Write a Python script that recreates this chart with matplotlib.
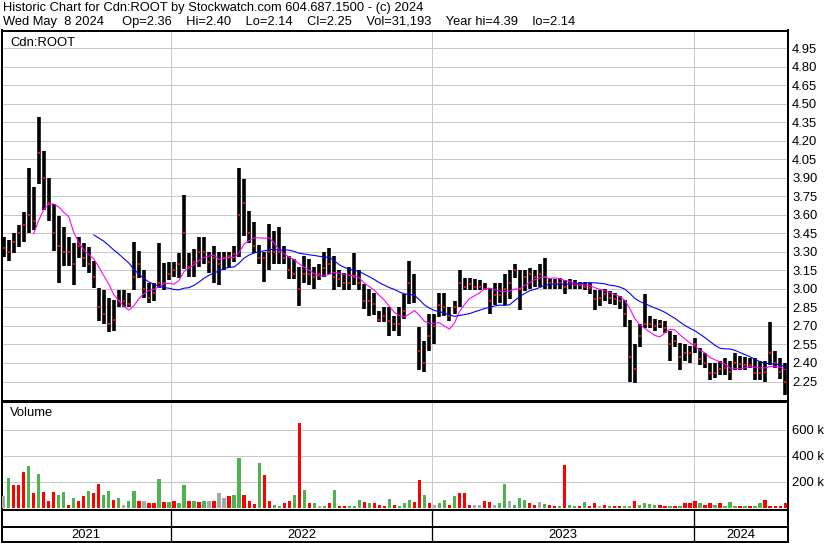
import numpy as np
import pandas as pd
import matplotlib
matplotlib.use('Agg')
import matplotlib.pyplot as plt

plt.rcParams['font.family'] = ['Liberation Sans', 'DejaVu Sans']

# weekly bars (week ending dates)
dates = pd.date_range('2021-05-12', '2024-05-08', freq='7D')

hi = [3.42, 3.40, 3.45, 3.52, 3.62, 3.98, 3.83, 4.39, 4.12, 3.90,
      3.69, 3.59, 3.50, 3.42, 3.37, 3.42, 3.37, 3.34, 3.23, 3.01,
      2.99, 2.93, 2.91, 2.99, 2.99, 2.97, 3.38, 3.31, 3.15, 3.05,
      3.05, 3.37, 3.21, 3.22, 3.22, 3.29, 3.76, 3.29, 3.32, 3.42,
      3.42, 3.30, 3.35, 3.30, 3.30, 3.30, 3.35, 3.98, 3.89, 3.63,
      3.54, 3.36, 3.30, 3.53, 3.47, 3.50, 3.35, 3.27, 3.24, 3.18,
      3.27, 3.24, 3.18, 3.20, 3.30, 3.33, 3.27, 3.15, 3.13, 3.18,
      3.29, 3.15, 3.04, 3.00, 2.97, 2.82, 2.85, 2.85, 2.78, 2.85,
      2.96, 3.23, 3.12, 2.69, 2.58, 2.80, 2.80, 2.97, 2.97, 2.85,
      2.90, 3.15, 3.09, 3.09, 3.08, 3.07, 3.05, 3.01, 3.05, 3.05,
      3.12, 3.15, 3.20, 3.15, 3.15, 3.17, 3.15, 3.20, 3.25, 3.09,
      3.08, 3.09, 3.07, 3.08, 3.07, 3.06, 3.06, 3.05, 2.99, 2.99,
      3.00, 2.98, 2.97, 2.94, 2.91, 2.75, 2.55, 2.72, 2.96, 2.78,
      2.76, 2.75, 2.74, 2.66, 2.63, 2.56, 2.55, 2.54, 2.60, 2.52,
      2.48, 2.40, 2.40, 2.42, 2.44, 2.42, 2.48, 2.46, 2.45, 2.44,
      2.44, 2.42, 2.42, 2.73, 2.50, 2.44, 2.40]

lo = [3.26, 3.23, 3.29, 3.34, 3.38, 3.45, 3.48, 3.85, 3.64, 3.55,
      3.31, 3.05, 3.19, 3.19, 3.03, 3.25, 3.18, 3.13, 3.01, 2.74,
      2.72, 2.65, 2.66, 2.85, 2.85, 2.85, 2.99, 3.09, 2.93, 2.89,
      2.90, 3.01, 2.99, 3.07, 3.10, 3.09, 3.16, 3.10, 3.10, 3.18,
      3.20, 3.13, 3.05, 3.03, 3.15, 3.17, 3.22, 3.26, 3.43, 3.37,
      3.29, 3.20, 3.06, 3.15, 3.20, 3.20, 3.20, 3.08, 3.08, 2.86,
      3.05, 3.03, 3.00, 3.07, 3.10, 3.12, 2.99, 3.02, 2.99, 2.99,
      3.03, 2.99, 2.84, 2.78, 2.79, 2.73, 2.73, 2.62, 2.66, 2.62,
      2.76, 2.88, 2.89, 2.34, 2.33, 2.50, 2.55, 2.77, 2.78, 2.74,
      2.80, 2.85, 2.99, 2.99, 2.99, 2.99, 2.99, 2.80, 2.87, 2.89,
      2.87, 2.92, 3.09, 2.83, 2.98, 3.00, 3.02, 3.02, 3.00, 3.00,
      3.00, 3.00, 2.96, 3.00, 3.00, 3.00, 2.99, 2.96, 2.83, 2.86,
      2.90, 2.88, 2.87, 2.84, 2.69, 2.25, 2.24, 2.53, 2.68, 2.68,
      2.66, 2.68, 2.64, 2.42, 2.53, 2.34, 2.42, 2.40, 2.48, 2.38,
      2.36, 2.26, 2.28, 2.30, 2.30, 2.26, 2.34, 2.34, 2.34, 2.36,
      2.26, 2.26, 2.25, 2.38, 2.36, 2.27, 2.14]

close = [3.33, 3.30, 3.38, 3.45, 3.52, 3.60, 3.55, 4.10, 3.90, 3.70,
         3.45, 3.35, 3.30, 3.30, 3.20, 3.35, 3.25, 3.20, 3.10, 2.85,
         2.80, 2.72, 2.75, 2.90, 2.90, 2.88, 3.10, 3.20, 3.00, 2.93,
         2.97, 3.05, 3.05, 3.12, 3.15, 3.20, 3.45, 3.18, 3.22, 3.30,
         3.30, 3.22, 3.25, 3.20, 3.25, 3.27, 3.28, 3.60, 3.70, 3.45,
         3.35, 3.25, 3.25, 3.30, 3.30, 3.30, 3.25, 3.15, 3.12, 3.00,
         3.12, 3.12, 3.10, 3.12, 3.17, 3.20, 3.10, 3.08, 3.05, 3.05,
         3.10, 3.05, 2.90, 2.90, 2.88, 2.75, 2.78, 2.74, 2.72, 2.72,
         2.82, 3.05, 2.95, 2.50, 2.40, 2.62, 2.70, 2.87, 2.85, 2.78,
         2.85, 3.05, 3.02, 3.04, 3.02, 3.02, 3.00, 2.90, 2.95, 2.95,
         3.00, 3.05, 3.15, 3.00, 3.10, 3.12, 3.10, 3.12, 3.10, 3.05,
         3.04, 3.05, 3.02, 3.04, 3.03, 3.03, 3.02, 3.01, 2.92, 2.93,
         2.96, 2.93, 2.92, 2.90, 2.80, 2.45, 2.35, 2.62, 2.72, 2.72,
         2.70, 2.72, 2.68, 2.55, 2.58, 2.45, 2.48, 2.48, 2.55, 2.43,
         2.40, 2.32, 2.32, 2.35, 2.36, 2.33, 2.40, 2.39, 2.38, 2.38,
         2.32, 2.32, 2.33, 2.48, 2.40, 2.33, 2.25]

# volume in thousands, colour code: g = up, r = down, n = unchanged
vol = [90, 230, 180, 180, 276, 325, 115, 260, 123, 56,
       123, 100, 123, 26, 77, 56, 90, 128, 115, 184,
       100, 133, 64, 77, 26, 56, 128, 56, 56, 38,
       38, 225, 46, 46, 51, 38, 180, 51, 56, 46,
       56, 56, 56, 115, 77, 95, 102, 380, 102, 51,
       30, 345, 250, 56, 26, 13, 38, 51, 102, 650,
       140, 38, 38, 13, 13, 38, 140, 18, 18, 18,
       18, 64, 46, 38, 38, 26, 18, 72, 26, 18,
       38, 64, 46, 215, 100, 38, 26, 38, 64, 26,
       95, 115, 115, 26, 26, 26, 56, 46, 26, 38,
       184, 56, 26, 77, 64, 38, 26, 46, 30, 26,
       18, 18, 328, 26, 13, 13, 46, 13, 38, 18,
       26, 18, 18, 18, 18, 18, 56, 26, 38, 30,
       26, 26, 13, 13, 13, 18, 38, 38, 56, 38,
       26, 38, 26, 38, 18, 46, 18, 18, 13, 13,
       18, 38, 64, 18, 18, 18, 38]

vol_dir = list("ngrrrgrgrr" "rggrgrrgrr" "ggrgnggrnr" "rgrgrggrgr"
               "gnrnnrggrr" "rgrrggrrgr" "grgngrgrrg" "ggrgrrrgrg"
               "ggrrgrnggr" "grrrnnrrng" "gngggrrngr" "rgrggrgrrn"
               "rgrrggrggg" "grrgrgrrrg" "rrgrgggrgr" "ggrrrr" "r")

years = [2021, 2022, 2023, 2024]
price_ticks = np.round(np.arange(15, 34) * 0.15, 2)
vol_ticks = [200, 400, 600]

W, H = 830, 543
px = 0.72
fs = 9.4


def box(x0, y0, x1, y1):
    return [x0 / W, 1 - y1 / H, (x1 - x0) / W, (y1 - y0) / H]


fig = plt.figure(figsize=(W / 100, H / 100), dpi=100)
fig.patch.set_facecolor('white')

fig.text(3 / W, 1 - 8 / H,
         'Historic Chart for Cdn:ROOT by Stockwatch.com 604.687.1500 - (c) 2024',
         va='center', ha='left', fontsize=9.3)
fig.text(3 / W, 1 - 22 / H,
         'Wed May  8 2024     Op=2.36    Hi=2.40    Lo=2.14    Cl=2.25    '
         'Vol=31,193    Year hi=4.39    lo=2.14', va='center', ha='left', fontsize=9.3)

xmin = pd.Timestamp('2021-05-09')
xmax = pd.Timestamp('2024-05-12')
ystarts = [pd.Timestamp(f'{y}-01-01') for y in years[1:]]

# price panel
ax1 = fig.add_axes(box(1.5, 30.5, 788, 400.5))
ax1.vlines(dates, lo, hi, color='black', lw=3.6 * px, zorder=3)
ax1.plot(dates, close, ls='none', marker='s', ms=2 * px, mew=0,
         color='red', zorder=4)
cs = pd.Series(close, index=dates)
ax1.plot(dates, cs.rolling(7).mean(), color='#ff00ff', lw=1.1 * px, zorder=5)
ax1.plot(dates, cs.rolling(19).mean(), color='#0000ff', lw=1.1 * px, zorder=5)
ax1.set_xlim(xmin, xmax)
ax1.set_ylim(2.096, 5.095)
ax1.set_yticks(price_ticks)
ax1.set_yticklabels([f'{v:.2f}' for v in price_ticks])
ax1.yaxis.tick_right()
ax1.tick_params(axis='y', length=0, pad=4 * px, labelsize=fs)
ax1.set_xticks([])
ax1.grid(axis='y', color='#c8c8c8', lw=1 * px)
for d in ystarts:
    ax1.axvline(d, color='#c8c8c8', lw=1 * px, zorder=0)
ax1.set_axisbelow(True)
fig.text(10 / W, 1 - 43 / H, 'Cdn:ROOT', va='center', ha='left', fontsize=fs)

# volume panel
colmap = {'g': '#4db34d', 'r': '#ff0000', 'n': '#a8a8a8'}
ax2 = fig.add_axes(box(1.5, 401.5, 788, 509.5))
ax2.bar(dates, np.array(vol) * 1000, width=4.5,
        color=[colmap[c] for c in vol_dir], zorder=3)
ax2.set_xlim(xmin, xmax)
ax2.set_ylim(-12000, 818000)
ax2.set_yticks([v * 1000 for v in vol_ticks])
ax2.set_yticklabels([f'{v} k' for v in vol_ticks])
ax2.yaxis.tick_right()
ax2.tick_params(axis='y', length=0, pad=4 * px, labelsize=fs)
ax2.set_xticks([])
ax2.grid(axis='y', color='#c8c8c8', lw=1 * px)
for d in ystarts:
    ax2.axvline(d, color='#c8c8c8', lw=1 * px, zorder=0)
ax2.set_axisbelow(True)
fig.text(10 / W, 1 - 413 / H, 'Volume', va='center', ha='left', fontsize=fs)

# year strip
ax3 = fig.add_axes(box(1.5, 509.5, 788, 542))
ax3.set_xlim(xmin, xmax)
ax3.set_ylim(0, 1)
ax3.set_xticks([])
ax3.set_yticks([])
ax3.axhline((542 - 527) / 32.5, color='black', lw=2 * px)
for d in ystarts:
    ax3.axvline(d, color='black', lw=1.3 * px)
edges = [xmin] + ystarts + [xmax]
for y, a, b in zip(years, edges[:-1], edges[1:]):
    ax3.text(a + (b - a) / 2, 0.23, str(y), ha='center', va='center', fontsize=fs)

for ax in (ax1, ax2, ax3):
    for s in ax.spines.values():
        s.set_color('black')
        s.set_linewidth(2 * px)

fig.savefig('out.png', dpi=100)
